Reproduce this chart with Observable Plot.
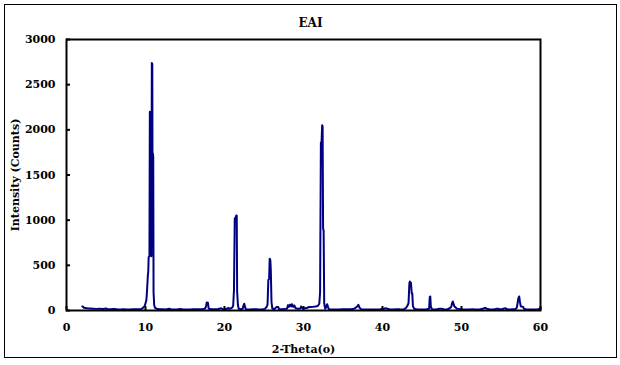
<!DOCTYPE html>
<html>
<head>
<meta charset="utf-8">
<script src="https://cdn.jsdelivr.net/npm/d3@7"></script>
<script src="https://cdn.jsdelivr.net/npm/@observablehq/plot@0.6"></script>
<style>
  html, body { margin: 0; padding: 0; background: #fff; }
  #wrap { position: relative; width: 620px; height: 365px; }
  #border { position: absolute; left: 4px; top: 4px; width: 611px; height: 352px; border: 1px solid #000; pointer-events: none; }
</style>
</head>
<body>
<div id="wrap"><div id="border"></div></div>
<script>
const title = "EAI";
const xLabel = "2-Theta(o)";
const yLabel = "Intensity (Counts)";
const xTicks = [0, 10, 20, 30, 40, 50, 60];
const yTicks = [0, 500, 1000, 1500, 2000, 2500, 3000];

const twoTheta = [
  2.0, 2.1, 2.2, 2.4, 2.6, 3.0, 3.4, 3.8, 4.2, 4.6, 5.0, 5.2, 5.6, 6.0, 6.4, 6.8, 7.2, 7.6, 8.0, 8.4, 8.8, 9.2, 9.5, 9.7, 9.8, 9.9,
  10.0, 10.1, 10.15, 10.2, 10.3, 10.35, 10.4, 10.5, 10.55, 10.62, 10.68, 10.75, 10.8, 10.86, 10.9, 10.93, 10.98, 11.02, 11.1, 11.2, 11.4, 11.8,
  12.2, 12.6, 13.0, 13.2, 13.6, 14.0, 14.4, 14.8, 15.2, 15.6, 16.0, 16.4, 16.8, 17.2, 17.5, 17.65, 17.75, 17.9, 18.0, 18.3, 18.8,
  19.2, 19.6, 19.8, 20.2, 20.5, 20.6, 20.9, 21.0, 21.1, 21.2, 21.3, 21.42, 21.48, 21.55, 21.6, 21.7, 21.8, 22.0, 22.3, 22.4, 22.5, 22.6, 22.7,
  23.2, 23.6, 24.0, 24.4, 24.8, 25.1, 25.3, 25.45, 25.55, 25.65, 25.72, 25.8, 25.86, 25.95, 26.05, 26.3, 26.6, 26.8, 26.9, 27.3, 27.7, 27.9,
  28.05, 28.15, 28.3, 28.45, 28.55, 28.7, 28.85, 29.0, 29.3, 29.6, 29.7, 29.85, 30.2, 30.5, 30.7, 30.9, 31.2, 31.5, 31.8, 32.0, 32.1,
  32.2, 32.28, 32.36, 32.42, 32.48, 32.55, 32.62, 32.75, 32.9, 33.0, 33.1, 33.2, 33.6, 34.0, 34.5, 35.0, 35.5, 36.0, 36.4, 36.6, 36.8, 36.95,
  37.1, 37.3, 37.8, 38.3, 38.8, 39.3, 39.7, 40.2, 40.4, 40.6, 40.9, 41.3, 41.8, 42.2, 42.7, 43.0, 43.2, 43.3, 43.4, 43.46, 43.53, 43.6,
  43.7, 43.77, 43.85, 44.0, 44.4, 44.8, 45.2, 45.6, 45.9, 45.98, 46.05, 46.12, 46.3, 46.8, 47.2, 47.5, 47.8, 48.2, 48.5, 48.7, 48.82, 48.9,
  49.0, 49.1, 49.25, 49.4, 49.7, 50.0, 50.5, 51.0, 51.4, 51.8, 52.3, 52.8, 53.0, 53.2, 53.5, 54.0, 54.4, 54.7, 55.0, 55.4, 55.6, 55.8,
  56.3, 56.8, 57.0, 57.1, 57.2, 57.3, 57.4, 57.5, 57.6, 57.8, 57.9, 58.2, 58.7, 59.2, 59.6, 59.9, 60.0
];
const counts = [
  45, 42, 30, 28, 24, 22, 20, 18, 20, 16, 22, 15, 14, 18, 13, 12, 13, 12, 12, 13, 14, 15, 18, 30, 40, 50,
  80, 110, 160, 230, 390, 430, 590, 600, 2200, 2180, 620, 600, 2740, 2730, 1000, 1740, 1700, 200, 60, 30, 20, 15,
  14, 12, 20, 14, 12, 12, 16, 12, 12, 12, 13, 14, 14, 16, 20, 40, 88, 85, 20, 15, 14,
  16, 25, 14, 15, 30, 18, 28, 35, 55, 230, 1020, 1030, 1052, 1050, 210, 60, 20, 15, 20, 55, 75, 40, 15,
  12, 14, 13, 12, 15, 18, 35, 66, 340, 350, 572, 560, 450, 90, 25, 14, 40, 40, 15, 13, 18, 20,
  60, 40, 65, 45, 70, 40, 55, 25, 20, 22, 45, 25, 25, 30, 40, 40, 42, 45, 50, 75, 200,
  1860, 1850, 2050, 2040, 910, 880, 80, 20, 45, 70, 40, 15, 12, 12, 12, 13, 14, 15, 20, 30, 45, 63,
  30, 13, 12, 12, 12, 12, 13, 20, 25, 20, 13, 12, 15, 13, 12, 30, 60, 85, 300, 321, 310, 306,
  190, 190, 50, 20, 12, 12, 12, 13, 20, 150, 155, 40, 12, 12, 20, 20, 12, 12, 25, 40, 85, 100,
  70, 45, 35, 20, 18, 12, 12, 12, 14, 12, 12, 22, 30, 20, 14, 12, 18, 18, 12, 22, 24, 12,
  13, 15, 30, 80, 136, 155, 95, 45, 45, 40, 20, 12, 12, 12, 12, 20, 25
];

const data = twoTheta.map((x, i) => ({x, y: counts[i]}));

const chart = Plot.plot({
  width: 620,
  height: 365,
  marginLeft: 66,
  marginRight: 80,
  marginTop: 39,
  marginBottom: 55,
  style: {fontFamily: "'DejaVu Serif'", fontSize: "11px", fontWeight: "bold", color: "#000", background: "transparent"},
  x: {domain: [0, 60], ticks: xTicks, label: null, tickFormat: d => String(d)},
  y: {domain: [0, 3000], ticks: yTicks, label: null, tickFormat: d => String(d)},
  marks: [
    Plot.line(data, {x: "x", y: "y", stroke: "#000080", strokeWidth: 2}),
    Plot.frame({stroke: "#000", strokeWidth: 2}),
    Plot.axisX({ticks: xTicks, tickFormat: d => String(d), tickSize: -4, tickPadding: 17, strokeWidth: 2, label: null}),
    Plot.axisY({ticks: yTicks, tickFormat: d => String(d), tickSize: -4, tickPadding: 15, strokeWidth: 2, label: null}),
    Plot.text([title], {text: d => d, frameAnchor: "top", dx: 7, dy: -16, lineAnchor: "middle", textAnchor: "middle", fontSize: 12}),
    Plot.text([xLabel], {text: d => d, frameAnchor: "bottom", dy: 39, lineAnchor: "middle", textAnchor: "middle"}),
    Plot.text([yLabel], {text: d => d, frameAnchor: "left", dx: -51, rotate: -90, lineAnchor: "middle", textAnchor: "middle"})
  ]
});
chart.style.position = "absolute";
chart.style.left = "0px";
chart.style.top = "0px";
document.getElementById("wrap").appendChild(chart);
</script>
</body>
</html>
